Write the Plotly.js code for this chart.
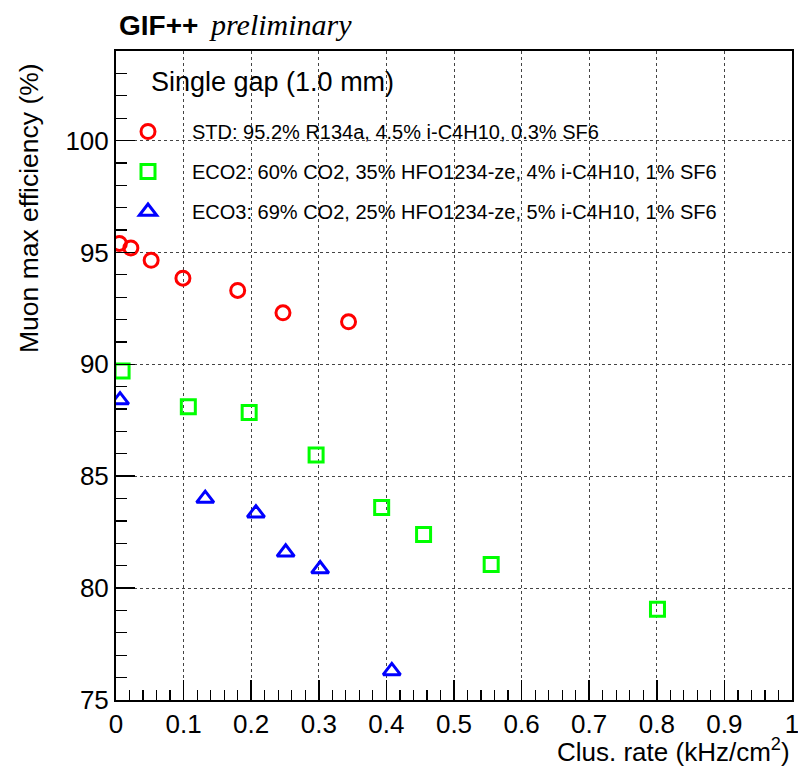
<!DOCTYPE html>
<html>
<head>
<meta charset="utf-8">
<script src="https://cdn.plot.ly/plotly-3.0.1.min.js"></script>
<style>
  html, body { margin: 0; padding: 0; background: #ffffff; }
  #chart { width: 798px; height: 770px; }
</style>
</head>
<body>
<div id="chart"></div>
<script>
// Muon max efficiency versus cluster rate, three gas mixtures
const seriesNames = [
  "STD: 95.2% R134a, 4.5% i-C4H10, 0.3% SF6",
  "ECO2: 60% CO2, 35% HFO1234-ze, 4% i-C4H10, 1% SF6",
  "ECO3: 69% CO2, 25% HFO1234-ze, 5% i-C4H10, 1% SF6"
];
const stdRate = [0.005, 0.022, 0.052, 0.099, 0.180, 0.247, 0.344];
const stdEff  = [95.4, 95.2, 94.65, 93.85, 93.3, 92.3, 91.9];
const eco2Rate = [0.009, 0.107, 0.197, 0.296, 0.393, 0.455, 0.555, 0.801];
const eco2Eff  = [89.7, 88.1, 87.85, 85.95, 83.6, 82.4, 81.05, 79.05];
const eco3Rate = [0.006, 0.132, 0.207, 0.251, 0.302, 0.408];
const eco3Eff  = [88.4, 84.0, 83.35, 81.6, 80.85, 76.3];
const xTickVals = [0, 0.1, 0.2, 0.3, 0.4, 0.5, 0.6, 0.7, 0.8, 0.9, 1];
const xTickText = ["0", "0.1", "0.2", "0.3", "0.4", "0.5", "0.6", "0.7", "0.8", "0.9", "1"];

const SANS = "Liberation Sans, Arial, Helvetica, sans-serif";
const SERIF = "Liberation Serif, Times New Roman, serif";

// frame geometry in pixels
const L = 116, R = 6, T = 51, B = 70;
const W = 798 - L - R, H = 770 - T - B;
const px = x => (x - L) / W;
const py = y => (770 - B - y) / H;

const traces = [
  { x: stdRate, y: stdEff, name: seriesNames[0], legendgroup: "a",
    mode: "markers", type: "scatter",
    marker: { symbol: "circle-open", size: 14, color: "#ff0000", line: { width: 3, color: "#ff0000" } } },
  { x: eco2Rate, y: eco2Eff, name: seriesNames[1], legendgroup: "b",
    mode: "markers", type: "scatter",
    marker: { symbol: "square-open", size: 14, color: "#00ff00", line: { width: 3, color: "#00ff00" } } },
  { x: eco3Rate, y: eco3Eff, name: seriesNames[2], legendgroup: "c",
    mode: "markers", type: "scatter",
    marker: { symbol: "triangle-up-open", size: 15, color: "#0000ff", line: { width: 3, color: "#0000ff" } } }
];

const axisCommon = {
  showline: true, linecolor: "#000", linewidth: 2, mirror: true,
  ticks: "inside", tickcolor: "#000", tickwidth: 1.5,
  showgrid: true, gridcolor: "#444", griddash: "dot", gridwidth: 1,
  zeroline: false, ticklabeloverflow: "allow",
  tickfont: { family: SANS, size: 26, color: "#000" }
};

const layout = {
  width: 798, height: 770,
  margin: { l: L, r: R, t: T, b: B },
  paper_bgcolor: "#fff", plot_bgcolor: "#fff",
  showlegend: true,
  legend: {
    x: px(104), xanchor: "left", y: py(112), yanchor: "top",
    bgcolor: "rgba(0,0,0,0)", borderwidth: 0,
    itemwidth: 78, traceorder: "grouped", tracegroupgap: 11,
    font: { family: SANS, size: 20, color: "#000" }
  },
  xaxis: Object.assign({}, axisCommon, {
    range: [0, 1], tickmode: "array", tickvals: xTickVals, ticktext: xTickText, ticklen: 20,
    minor: { dtick: 0.02, ticks: "inside", ticklen: 10, tickcolor: "#000", tickwidth: 1.2, showgrid: false }
  }),
  yaxis: Object.assign({}, axisCommon, {
    range: [75, 104], tick0: 75, dtick: 5, ticklen: 19,
    minor: { dtick: 1, ticks: "inside", ticklen: 11, tickcolor: "#000", tickwidth: 1.2, showgrid: false }
  }),
  annotations: [
    { xref: "paper", yref: "paper", x: px(117), y: py(26), xanchor: "left", yanchor: "middle",
      showarrow: false, text: "<b>GIF++</b>", font: { family: SANS, size: 28, color: "#000" } },
    { xref: "paper", yref: "paper", x: px(207), y: py(25), xanchor: "left", yanchor: "middle",
      showarrow: false, text: "<i>preliminary</i>", font: { family: SERIF, size: 30, color: "#000" } },
    { xref: "paper", yref: "paper", x: px(149), y: py(82), xanchor: "left", yanchor: "middle",
      showarrow: false, text: "Single gap (1.0 mm)", font: { family: SANS, size: 27, color: "#000" } },
    { xref: "paper", yref: "paper", x: px(29), y: py(208), xanchor: "center", yanchor: "middle",
      textangle: -90, showarrow: false, text: "Muon max efficiency (%)",
      font: { family: SANS, size: 26.5, color: "#000" } },
    { xref: "paper", yref: "paper", x: px(792), y: py(750), xanchor: "right", yanchor: "middle",
      showarrow: false, text: "Clus. rate (kHz/cm<sup>2</sup>)",
      font: { family: SANS, size: 26, color: "#000" } }
  ]
};

Plotly.newPlot("chart", traces, layout, { displayModeBar: false, staticPlot: true });
</script>
</body>
</html>
